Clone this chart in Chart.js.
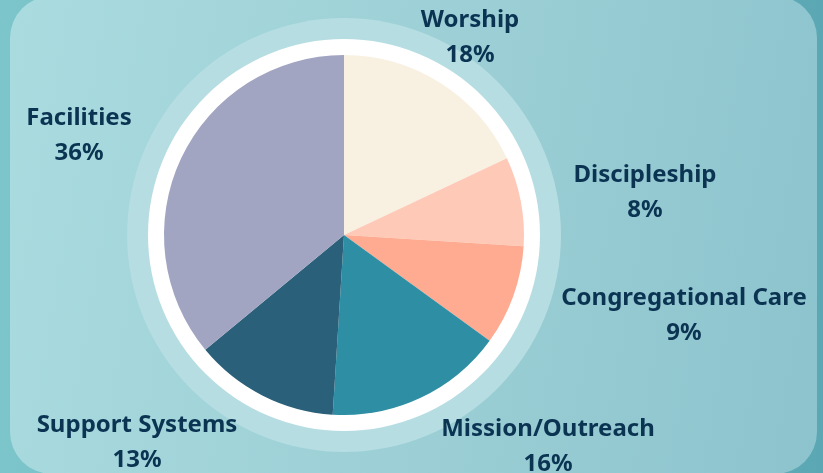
<!DOCTYPE html>
<html>
<head>
<meta charset="utf-8">
<script src="https://cdn.jsdelivr.net/npm/chart.js@4"></script>
<style>
  html, body { margin: 0; padding: 0; }
  body { width: 823px; height: 473px; overflow: hidden; background: linear-gradient(90deg, #7cc5ca, #5ba8b4); }
  .panel {
    position: absolute; left: 10px; top: -4px; width: 807px; height: 478px;
    border-radius: 42px;
    background: linear-gradient(100deg, #a9dbdf 0%, #9dd0d6 50%, #8cc3cd 100%);
  }
  #wrap { position: absolute; left: 0; top: 0; width: 823px; height: 473px; }
</style>
</head>
<body>
<div class="panel"></div>
<div id="wrap"><canvas id="pie"></canvas></div>
<script>
/* Budget allocation pie: slices clockwise from 12 o'clock. */

const categories = ['Worship', 'Discipleship', 'Congregational Care', 'Mission/Outreach', 'Support Systems', 'Facilities'];
const shares = [18, 8, 9, 16, 13, 36];
const sliceColors = ['#f8f1e2', '#fecab7', '#ffab91', '#2e8fa4', '#2a6079', '#a1a5c2'];

// label centres, relative to the pie centre (name line; percent line sits below)
const labelSpots = [
  [126, -215], [301, -60], [340, 63], [204, 194], [-207, 190], [-265, -117],
];

const INK = '#0b3352';
const FONT = 'bold 24px "Noto Sans", "Open Sans", sans-serif';

const ringPlugin = {
  id: 'rings',
  beforeDatasetsDraw(chart) {
    const arc = chart.getDatasetMeta(0).data[0];
    if (!arc) return;
    const { x, y, outerRadius: r } = arc.getProps(['x', 'y', 'outerRadius'], true);
    const ctx = chart.ctx;
    ctx.save();
    ctx.fillStyle = '#b6dde2';
    ctx.beginPath(); ctx.arc(x, y, r + 37, 0, Math.PI * 2); ctx.fill();
    ctx.fillStyle = '#ffffff';
    ctx.beginPath(); ctx.arc(x, y, r + 16, 0, Math.PI * 2); ctx.fill();
    ctx.restore();
  },
  afterDatasetsDraw(chart) {
    const arc = chart.getDatasetMeta(0).data[0];
    if (!arc) return;
    const { x, y } = arc.getProps(['x', 'y'], true);
    const ctx = chart.ctx;
    ctx.save();
    ctx.font = FONT;
    ctx.fillStyle = INK;
    ctx.textAlign = 'center';
    ctx.textBaseline = 'middle';
    categories.forEach((name, i) => {
      const [dx, dy] = labelSpots[i];
      ctx.fillText(name, x + dx, y + dy);
      ctx.fillText(shares[i] + '%', x + dx, y + dy + 35);
    });
    ctx.restore();
  },
};

new Chart(document.getElementById('pie'), {
  type: 'pie',
  data: {
    labels: categories,
    datasets: [{ data: shares, backgroundColor: sliceColors, borderWidth: 0, hoverOffset: 0 }],
  },
  options: {
    responsive: true, maintainAspectRatio: false, animation: false,
    radius: 180,
    layout: { padding: { left: 0, right: 135, top: 0, bottom: 3 } },
    plugins: { legend: { display: false }, tooltip: { enabled: false } },
  },
  plugins: [ringPlugin],
});
</script>
</body>
</html>
